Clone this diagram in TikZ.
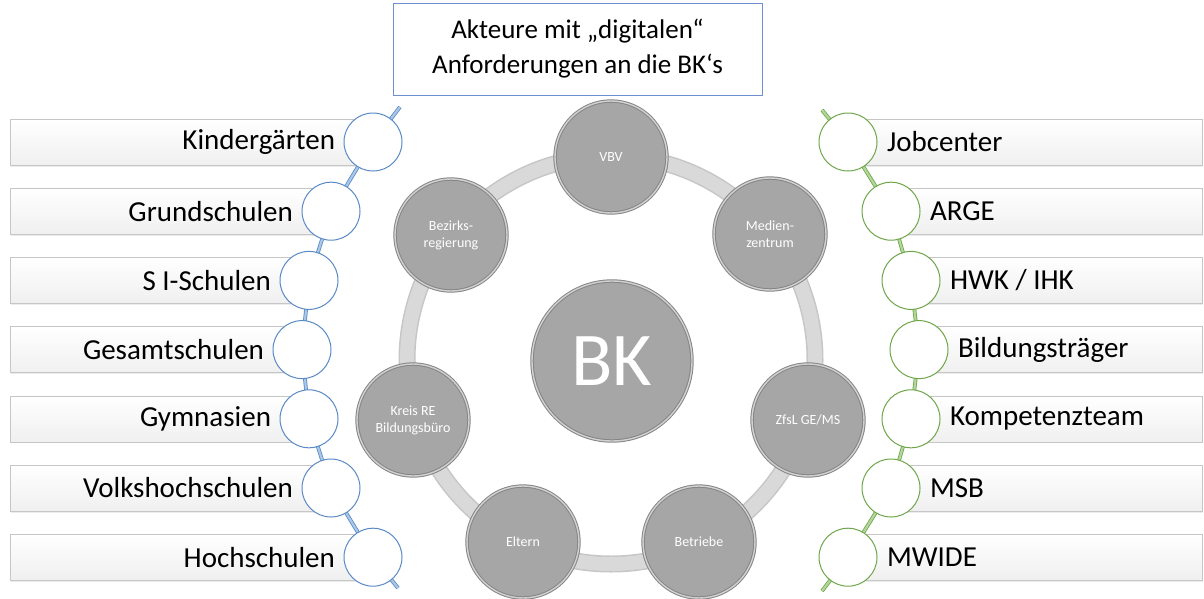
\documentclass[tikz,border=0pt]{standalone}
\usepackage{fontspec}
\setmainfont{Carlito}
\usetikzlibrary{backgrounds,shadows}
\definecolor{ringgray}{HTML}{D9D9D9}
\definecolor{ballgray}{HTML}{A6A6A6}
\definecolor{rimgray}{HTML}{858585}
\definecolor{titleblue}{HTML}{6E8FD1}
\definecolor{lblue}{HTML}{5A8AC6}
\definecolor{lbluepale}{HTML}{A9C8E8}
\definecolor{rgreen}{HTML}{6FA64A}
\definecolor{rgreenpale}{HTML}{B3D69A}
\begin{document}
\begin{tikzpicture}[x=1pt,y=-1pt,
    lbl/.style={font=\fontsize{29}{34}\selectfont},
    sidebox/.style={draw=gray!45, top color=white, bottom color=gray!12, minimum height=46pt, inner sep=0pt,
      drop shadow={opacity=0.15, shadow xshift=1pt, shadow yshift=-1.5pt}},
    lcirc/.style={circle, draw=lblue, line width=1pt, fill=white, minimum size=58pt, inner sep=0pt},
    rcirc/.style={circle, draw=rgreen, line width=1pt, fill=white, minimum size=58pt, inner sep=0pt},
    bline/.style={draw=lblue, line width=0.8pt, double=lbluepale, double distance=2.2pt},
    gline/.style={draw=rgreen, line width=0.8pt, double=rgreenpale, double distance=2.2pt},
    ball/.style={circle, fill=ballgray, draw=rimgray, line width=1pt, double=gray!35, double distance=1.4pt,
      minimum size=112pt, inner sep=0pt, text=white, align=center, font=\fontsize{14}{17}\selectfont},
    bigball/.style={ball, minimum size=160pt, font=\fontsize{76}{80}\selectfont}]
  \useasboundingbox (0,0) rectangle (1204,598);
  % title
  \node[draw=titleblue, line width=1pt, minimum width=369pt, minimum height=92pt, align=center,
        font=\fontsize{27}{35}\selectfont] (title) at (577.5,49) {Akteure mit „digitalen“\\Anforderungen an die BK‘s};
  % ring and circles in the middle
  \coordinate (ctr) at (611,360);
  \draw[line width=17pt, gray!45] (ctr) circle (204pt);
  \draw[line width=14pt, ringgray] (ctr) circle (204pt);
  \node[bigball] (bk) at (612,361) {BK};
  \node[ball] (vbv) at (611,157) {VBV};
  \node[ball] (medien) at (770,234) {Medien-\\zentrum};
  \node[ball] (zfsl) at (808,420) {ZfsL GE/MS};
  \node[ball] (betriebe) at (699,542) {Betriebe};
  \node[ball] (eltern) at (523,542) {Eltern};
  \node[ball] (kreis) at (413,420) {Kreis RE\\Bildungsbüro};
  \node[ball] (bezirk) at (451,235) {Bezirks-\\regierung};
  % left list
  \foreach \i/\cx/\txt in {0/373/Kindergärten, 1/331/Grundschulen, 2/309/S I-Schulen, 3/302/Gesamtschulen,
                           4/309/Gymnasien, 5/331/Volkshochschulen, 6/373/Hochschulen} {
    \pgfmathsetmacro\yy{142+69.2*\i}
    \node[sidebox, anchor=west, minimum width={\cx-10}] (lb\i) at (10,\yy) {};
    \node[lcirc] (lc\i) at (\cx,\yy) {};
    \node[lbl, anchor=east] (lt\i) at ([xshift=-5pt]lc\i.west) {\txt};
  }
  % right list
  \foreach \i/\cx/\txt in {0/848/Jobcenter, 1/891/ARGE, 2/911/{HWK / IHK}, 3/919/Bildungsträger,
                           4/911/Kompetenzteam, 5/891/MSB, 6/848/MWIDE} {
    \pgfmathsetmacro\yy{142+69.2*\i}
    \node[sidebox, anchor=west, minimum width={1202-\cx}] (rb\i) at (\cx,\yy) {};
    \node[rcirc] (rc\i) at (\cx,\yy) {};
    \node[lbl, anchor=west] (rt\i) at ([xshift=6pt]rc\i.east) {\txt};
  }
  % connectors
  \coordinate (ltop) at (400,107);
  \coordinate (lbot) at (398,588);
  \coordinate (rtop) at (822,110);
  \coordinate (rbot) at (822,591);
  \begin{pgfonlayer}{background}
    \draw[bline] (ltop) -- (lc0.center) -- (lc1.center) -- (lc2.center) -- (lc3.center)
      -- (lc4.center) -- (lc5.center) -- (lc6.center) -- (lbot);
    \draw[gline] (rtop) -- (rc0.center) -- (rc1.center) -- (rc2.center) -- (rc3.center)
      -- (rc4.center) -- (rc5.center) -- (rc6.center) -- (rbot);
  \end{pgfonlayer}
\end{tikzpicture}
\end{document}
